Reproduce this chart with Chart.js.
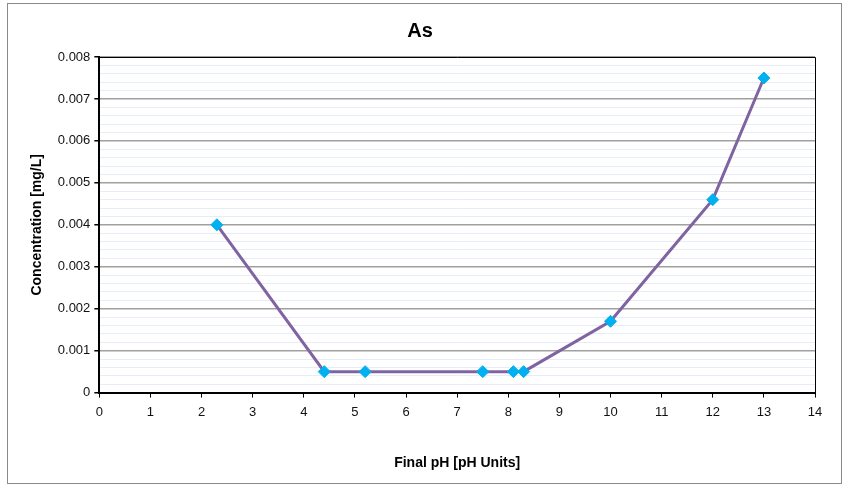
<!DOCTYPE html>
<html>
<head>
<meta charset="utf-8">
<script src="https://cdn.jsdelivr.net/npm/chart.js@4"></script>
<style>
  html, body { margin: 0; padding: 0; background: #fff; }
  #wrap { width: 844px; height: 485px; }
</style>
</head>
<body>
<div id="wrap"><canvas id="chart" width="844" height="485"></canvas></div>
<script>
// data
const phValues   = [2.3, 4.4, 5.2, 7.5, 8.1, 8.3, 10, 12, 13];
const concValues = [0.004, 0.0005, 0.0005, 0.0005, 0.0005, 0.0005, 0.0017, 0.0046, 0.0075];
const chartTitle = 'As';
const xTitle = 'Final pH [pH Units]';
const yTitle = 'Concentration [mg/L]';

const points = phValues.map((x, i) => ({ x, y: concValues[i] }));

const isMajor = v => Math.abs(v * 1000 - Math.round(v * 1000)) < 1e-6;

// outer frame + plot box
const framePlugin = {
  id: 'frame',
  afterDraw(chart) {
    const { ctx, chartArea: a } = chart;
    ctx.save();
    ctx.strokeStyle = '#000';
    ctx.lineWidth = 1;
    ctx.beginPath();
    ctx.moveTo(a.left, a.top + 0.5);
    ctx.lineTo(a.right + 0.5, a.top + 0.5);
    ctx.lineTo(a.right + 0.5, a.bottom);
    ctx.stroke();
    ctx.strokeStyle = '#8a8a8a';
    ctx.strokeRect(7.5, 3.5, 834, 480);
    ctx.restore();
  }
};

Chart.defaults.font.family = '"Liberation Sans", Arial, sans-serif';
Chart.defaults.color = '#111';

new Chart(document.getElementById('chart'), {
  type: 'scatter',
  data: {
    datasets: [{
      data: points,
      showLine: true,
      borderColor: '#8064A2',
      borderWidth: 3,
      pointStyle: 'rectRot',
      pointRadius: 6,
      pointHoverRadius: 6,
      pointBackgroundColor: '#00B0F0',
      pointBorderColor: '#00B0F0',
      pointBorderWidth: 1
    }]
  },
  options: {
    responsive: false,
    animation: false,
    layout: { padding: { left: 25, right: 29, top: 7, bottom: 13 } },
    plugins: {
      legend: { display: false },
      tooltip: { enabled: false },
      title: {
        display: true, text: chartTitle, color: '#000',
        font: { size: 20, weight: 'bold' }, padding: { top: 12, bottom: 14 }
      }
    },
    scales: {
      x: {
        type: 'linear', min: 0, max: 14,
        ticks: { stepSize: 1, font: { size: 13 }, color: '#111', padding: 7 },
        grid: { drawOnChartArea: false, tickLength: 5, tickColor: '#000' },
        border: { color: '#000', width: 2 },
        title: { display: true, text: xTitle, color: '#000', font: { size: 14, weight: 'bold' }, padding: { top: 28, bottom: 0 } }
      },
      y: {
        min: 0, max: 0.008,
        ticks: {
          stepSize: 0.0002, autoSkip: false, font: { size: 13 }, color: '#111', padding: 4,
          callback: v => isMajor(v) ? (Math.round(v * 1000) / 1000).toString() : ''
        },
        grid: {
          color: c => isMajor(c.tick.value) ? '#a0a0a0' : 'rgba(195,210,238,0.4)',
          lineWidth: c => isMajor(c.tick.value) ? 1.5 : 1,
          tickLength: 5,
          tickColor: c => isMajor(c.tick.value) ? '#000' : 'rgba(0,0,0,0)'
        },
        border: { color: '#000', width: 2 },
        title: { display: true, text: yTitle, color: '#000', font: { size: 14, weight: 'bold' }, padding: { bottom: 8 } }
      }
    }
  },
  plugins: [framePlugin]
});
</script>
</body>
</html>
